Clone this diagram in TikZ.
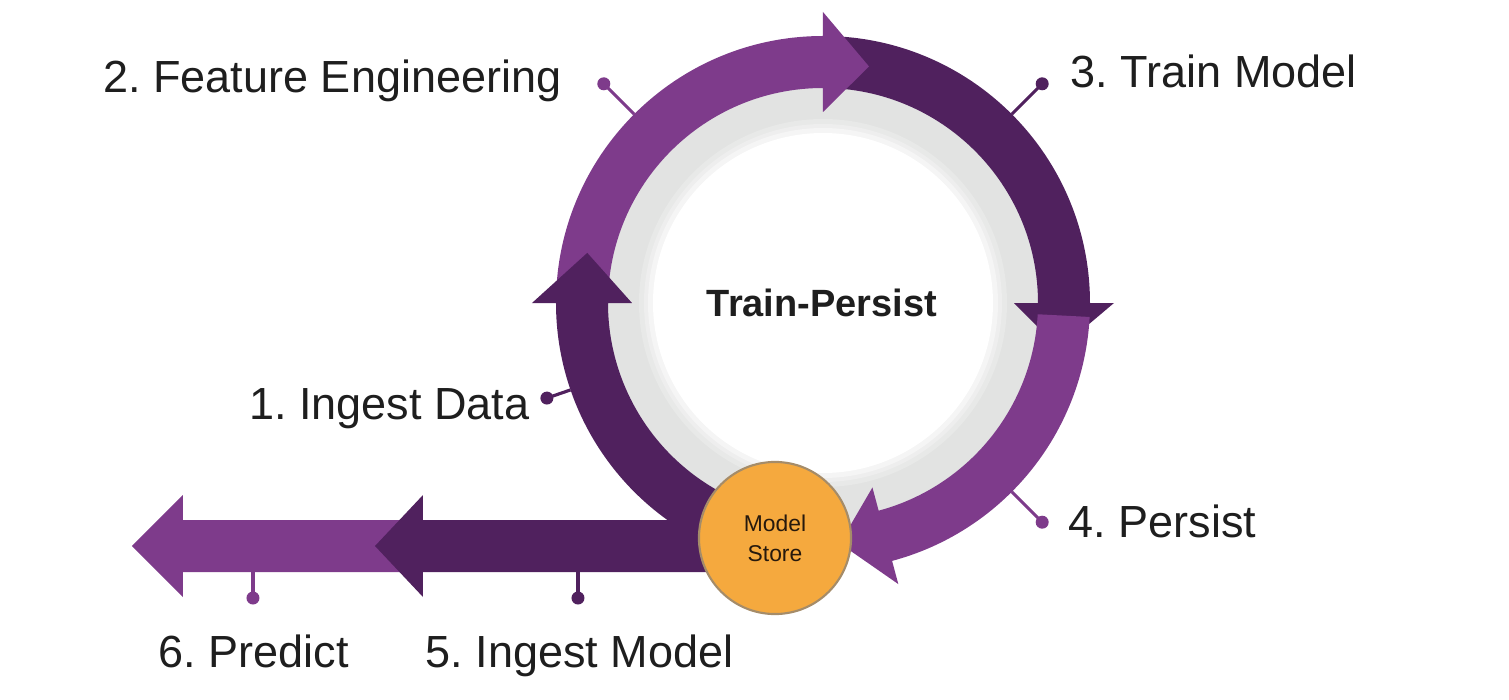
\documentclass[tikz,border=0pt]{standalone}
\usepackage{fontspec}
\setmainfont{Liberation Sans}
\usetikzlibrary{calc}
\usetikzlibrary{positioning}
\frenchspacing

\definecolor{lightpurple}{RGB}{126,59,139}
\definecolor{darkpurple}{RGB}{80,33,94}
\definecolor{storeorange}{RGB}{245,169,62}
\definecolor{storeedge}{RGB}{165,140,105}
\definecolor{ringgray}{RGB}{226,227,226}
\definecolor{labeltext}{RGB}{30,30,30}

\tikzset{
    steplabel/.style={font=\fontsize{12.8}{15}\selectfont, text=labeltext, inner sep=0pt},
    leader/.style={line width=0.9pt},
}

\begin{document}
\begin{tikzpicture}[x=0.01cm, y=0.01cm]
            \useasboundingbox (-823,-397) rectangle (686,303);

            % grey ring behind the loop
            \fill[ringgray] (0,0) circle (222);
            \foreach \r/\g in {184/80,179/60,175/35,170/0}{
                \fill[ringgray!\g!white] (0,0) circle (\r);
            }

            % straight arrows
            \fill[lightpurple] (-410,-217) -- (-640,-217) -- (-640,-192) -- (-691,-243)
                -- (-640,-294) -- (-640,-269) -- (-410,-269) -- cycle;
            \fill[darkpurple] (-60,-217) -- (-400,-217) -- (-400,-192) -- (-448,-243)
                -- (-400,-294) -- (-400,-269) -- (-60,-269) -- cycle;

            % loop segments: start / head base / tip
            \foreach \a/\b/\t/\c in {90/0/-11/darkpurple, -3/-75/-86/lightpurple,
                                     180/90/79/lightpurple, 250/180/168/darkpurple}{
                \fill[\c] (\a:267) arc[start angle=\a, end angle=\b, radius=267]
                    -- (\b:291) -- (\t:241) -- (\b:191) -- (\b:215)
                    arc[start angle=\b, end angle=\a, radius=215] -- cycle;
            }

            \node[circle, minimum size=1.52cm, fill=storeorange, draw=storeedge, line width=0.6pt,
                  align=center, text=black!80!brown, font=\fontsize{6.5}{8.5}\selectfont]
                  (store) at (-48,-235) {Model\\Store};

            \node[font=\bfseries\fontsize{10.8}{13}\selectfont, text=labeltext] (trainpersist) at (-1,0) {Train-Persist};

            \coordinate (feIn) at (135:267);
            \coordinate (feDot) at (135:310);
            \coordinate (tmIn) at (45:267);
            \coordinate (tmDot) at (45:310);
            \coordinate (idIn) at (199:267);
            \coordinate (idDot) at (199:292);
            \coordinate (peIn) at (-45:267);
            \coordinate (peDot) at (-45:310);
            \coordinate (imIn) at (-245,-269);
            \coordinate (imDot) at (-245,-295);
            \coordinate (prIn) at (-570,-269);
            \coordinate (prDot) at (-570,-295);

            \node[steplabel, anchor=base east] (fe) at (-261,210) {2. Feature Engineering};
            \node[steplabel, anchor=base west] (tm) at (247,215) {3. Train Model};
            \node[steplabel, anchor=base east] (id) at (-293,-116) {1. Ingest Data};
            \node[steplabel, anchor=base west] (pe) at (245,-234) {4. Persist};
            \node[steplabel, anchor=base west] (pr) at (-665,-364) {6. Predict};
            \node[steplabel, anchor=base west] (im) at (-398,-364) {5. Ingest Model};

            \draw[leader, lightpurple] (feIn) -- (feDot);
            \draw[leader, darkpurple] (tmIn) -- (tmDot);
            \draw[leader, darkpurple] (idIn) -- (idDot);
            \draw[leader, lightpurple] (peIn) -- (peDot);
            \draw[leader, darkpurple] (imIn) -- (imDot);
            \draw[leader, lightpurple] (prIn) -- (prDot);

            \foreach \p/\c in {feDot/lightpurple, tmDot/darkpurple, idDot/darkpurple,
                               peDot/lightpurple, imDot/darkpurple, prDot/lightpurple}{
                \fill[\c] (\p) circle (6.5);
            }
        \end{tikzpicture}
\end{document}
